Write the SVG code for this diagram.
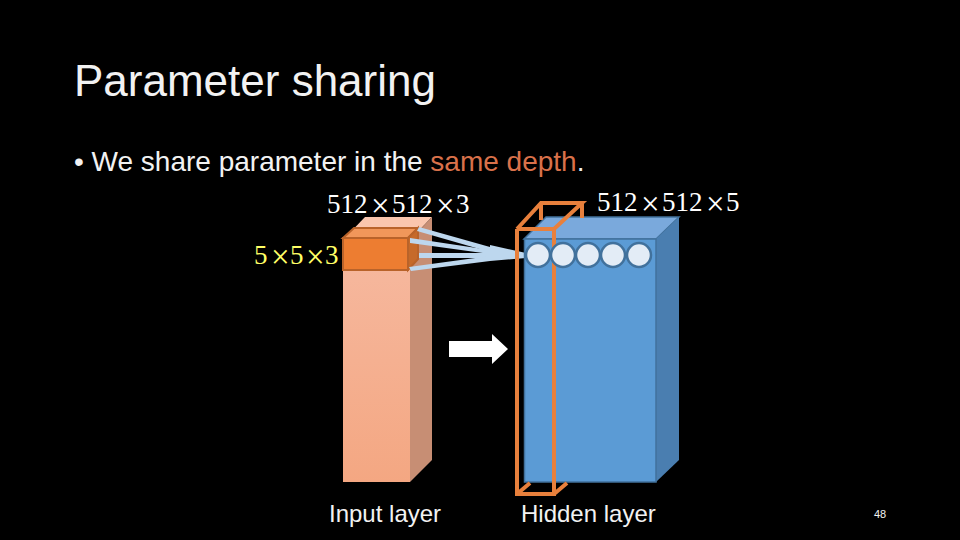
<svg xmlns="http://www.w3.org/2000/svg" width="960" height="540" viewBox="0 0 960 540">
<style>
.s{font-family:"Liberation Sans",Arial,sans-serif;fill:#f2f2f2}
.m{font-family:"Liberation Serif","Times New Roman",serif;font-size:27px}
.x{font-size:33px}
.o{fill:none;stroke:#e8803c;stroke-width:4}
.c{fill:#e3ecf6;stroke:#41719c;stroke-width:2.5}
.r{fill:#bdd7ee}
</style>
<defs>
<linearGradient id="g" x1="0" y1="0" x2="0" y2="1"><stop offset="0" stop-color="#f6b9a0"/><stop offset="1" stop-color="#f4a782"/></linearGradient>
</defs>
<rect width="960" height="540" fill="#000"/>
<text class="s" x="74" y="96" font-size="44">Parameter sharing</text>
<text class="s" x="74" y="171" font-size="28">• We share parameter in the <tspan fill="#d9714a">same depth</tspan>.</text>

<g id="input-layer">
<polygon points="343,240 365,217 432,217 410,240" fill="#fac6ae"/>
<polygon points="410,240 432,217 432,460 410,482" fill="#c78e74"/>
<rect x="343" y="240" width="67" height="242" fill="url(#g)"/>
</g>
<g id="input-patch">
<polygon points="343,238 354,228 418,228 408,238" fill="#f1975a" stroke="#b9632a" stroke-width="2"/>
<polygon points="408,238 418,228 418,259 408,270" fill="#c66a2a" stroke="#b9632a" stroke-width="2"/>
<rect x="343" y="238" width="65" height="32" fill="#ed7d31" stroke="#b9632a" stroke-width="2"/>
</g>
<g id="connectors">
<polygon class="r" points="419,227 417,231 490,252 490,247"/>
<polygon class="r" points="410,238 410,243 490,254 490,250"/>
<polygon class="r" points="419,253 419,258 490,258 490,253"/>
<polygon class="r" points="409,267 411,271 490,261 490,256"/>
<polygon class="r" points="490,245 526,253 526,258 490,261"/>
</g>
<g id="hidden-layer">
<polygon points="524,239 546,217 679,217 656,239" fill="#7aa9dc" stroke="#41719c" stroke-width="1.5"/>
<polygon points="656,239 679,217 679,460 656,482" fill="#4a7eb0"/>
<rect x="524.500" y="239" width="131.500" height="243" fill="#5b9bd5" stroke="#41719c" stroke-width="1.500"/>
</g>
<g id="depth-box">
<path class="o" d="M517,229 H554 L582,203 H541 L517,229 M541,203 V220 M582,203 V218"/>
<path class="o" d="M517,229 V494 H554 V229"/>
<path class="o" d="M517,494 L530,483 M554,494 L567,483"/>
</g>
<g id="neurons">
<circle class="c" cx="538" cy="255" r="12"/>
<circle class="c" cx="563" cy="255" r="12"/>
<circle class="c" cx="588" cy="255" r="12"/>
<circle class="c" cx="613" cy="255" r="12"/>
<circle class="c" cx="639" cy="255" r="12"/>
</g>
<polygon id="arrow" points="449,341 492,341 492,334 508,349 492,364 492,357 449,357" fill="#fff"/>
<g id="labels">
<text class="m" y="213" fill="#fff"><tspan x="327">512</tspan><tspan class="x" x="371" y="217">×</tspan><tspan x="392" y="213">512</tspan><tspan class="x" x="436" y="217">×</tspan><tspan x="456" y="213">3</tspan></text>
<text class="m" y="211" fill="#fff"><tspan x="597">512</tspan><tspan class="x" x="641" y="215">×</tspan><tspan x="662" y="211">512</tspan><tspan class="x" x="706" y="215">×</tspan><tspan x="726" y="211">5</tspan></text>
<text class="m" y="264" fill="#ff6"><tspan x="254">5</tspan><tspan class="x" x="271" y="268">×</tspan><tspan x="290" y="264">5</tspan><tspan class="x" x="306" y="268">×</tspan><tspan x="325" y="264">3</tspan></text>
<text class="s" x="329" y="522" font-size="24">Input layer</text>
<text class="s" x="521" y="522" font-size="24">Hidden layer</text>
<text class="s" x="874" y="518" font-size="11">48</text>
</g>
</svg>
